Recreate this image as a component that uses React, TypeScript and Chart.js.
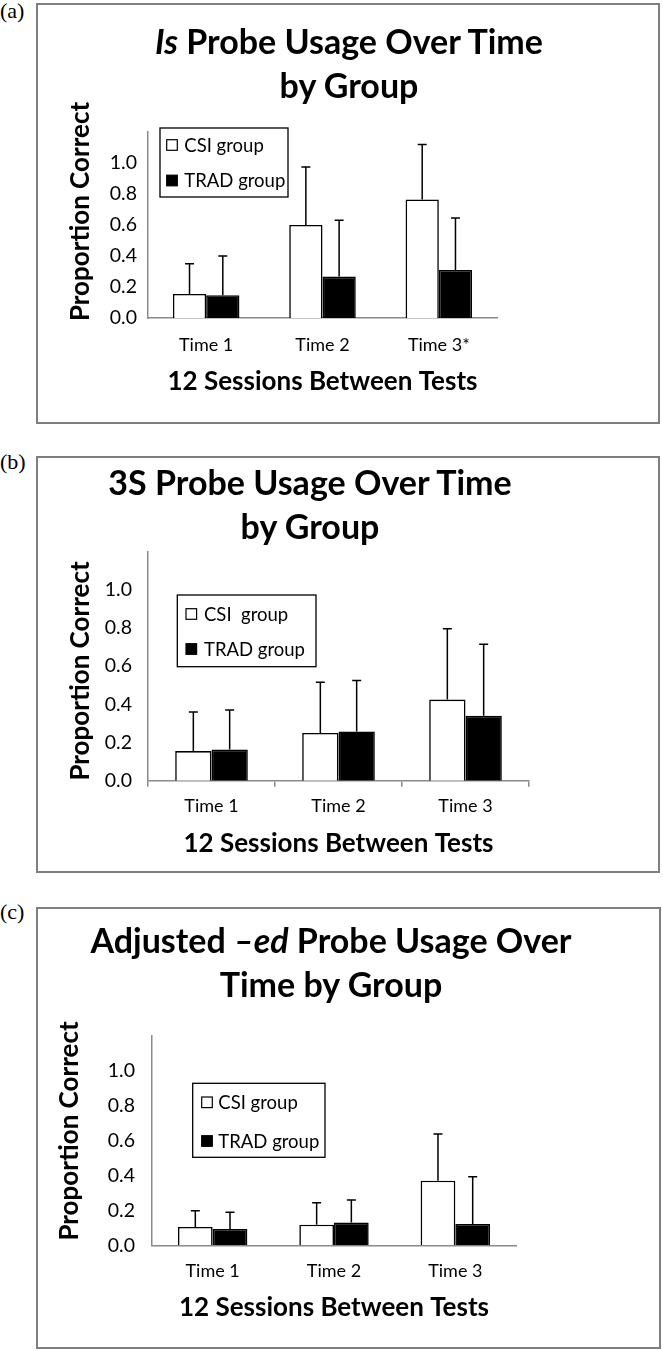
import React, { useEffect, useRef } from "react";
import { Chart, registerables } from "chart.js";

Chart.register(...registerables);

// ---------------- data ----------------
const timeLabelsA = ["Time 1", "Time 2", "Time 3*"];
const timeLabelsB = ["Time 1", "Time 2", "Time 3"];
const timeLabelsC = ["Time 1", "Time 2", "Time 3"];

const seriesNamesA = ["CSI group", "TRAD group"];
const seriesNamesB = ["CSI  group", "TRAD group"];
const seriesNamesC = ["CSI group", "TRAD group"];

const csiMeanA = [0.155, 0.6, 0.765];
const csiSdA = [0.195, 0.375, 0.355];
const tradMeanA = [0.147, 0.267, 0.31];
const tradSdA = [0.253, 0.363, 0.335];

const csiMeanB = [0.155, 0.25, 0.425];
const csiSdB = [0.205, 0.265, 0.37];
const tradMeanB = [0.163, 0.258, 0.34];
const tradSdB = [0.207, 0.267, 0.375];

const csiMeanC = [0.105, 0.118, 0.37];
const csiSdC = [0.093, 0.126, 0.268];
const tradMeanC = [0.094, 0.13, 0.122];
const tradSdC = [0.096, 0.13, 0.27];

const yMin = 0;
const yMax = 1.2;
const yStep = 0.2;
const yLabelMax = 1.0;

const titleA: [string, boolean][][] = [
  [["Is", true], [" Probe Usage Over Time", false]],
  [["by Group", false]],
];
const titleB: [string, boolean][][] = [
  [["3S Probe Usage Over Time", false]],
  [["by Group", false]],
];
const titleC: [string, boolean][][] = [
  [["Adjusted ", false], ["\u2013ed", true], [" Probe Usage Over", false]],
  [["Time by Group", false]],
];

const yAxisTitle = "Proportion Correct";
const xAxisTitle = "12 Sessions Between Tests";
const panelLabels = ["(a)", "(b)", "(c)"];

// ---------------- layout (positions / styles) ----------------
const FONT = "Lato, 'Open Sans', sans-serif";
const AXIS_GREY = "#8a8a8a";
const BOX_GREY = "#7f7f7f";

type Layout = {
  box: { x: number; y: number; w: number; h: number };
  area: { l: number; r: number; t: number; b: number };
  yTickPad: number;
  xTickPad: number;
  xTickMarks: boolean;
  yTitle: { x: number; y: number };
  xTitleY: number;
  legend: { x: number; y: number; w: number; h: number; sqX: number; sq: number; rows: number[]; textX: number };
  titleCenterX: number;
  titleBaseline: number;
  labelBaseline: number;
};

const layoutA: Layout = {
  box: { x: 36, y: 3, w: 624, h: 421 },
  area: { l: 112, r: 461, t: 129, b: 315 },
  yTickPad: 11,
  xTickPad: 16,
  xTickMarks: false,
  yTitle: { x: 53, y: 208.5 },
  xTitleY: 387,
  legend: { x: 124, y: 125, w: 128, h: 69, sqX: 130.7, sq: 10.6, rows: [142, 177.5], textX: 148.3 },
  titleCenterX: 349,
  titleBaseline: 54,
  labelBaseline: 18,
};

const layoutB: Layout = {
  box: { x: 36, y: 456, w: 624, h: 417 },
  area: { l: 112, r: 493, t: 95.5, b: 324.7 },
  yTickPad: 16,
  xTickPad: 9,
  xTickMarks: true,
  yTitle: { x: 53, y: 215 },
  xTitleY: 396,
  legend: { x: 141.3, y: 139, w: 138.7, h: 71.7, sqX: 150, sq: 10.6, rows: [158, 193], textX: 168 },
  titleCenterX: 310,
  titleBaseline: 495,
  labelBaseline: 469,
};

const layoutC: Layout = {
  box: { x: 36, y: 907, w: 625, h: 442 },
  area: { l: 116, r: 480, t: 128.8, b: 338.3 },
  yTickPad: 17,
  xTickPad: 15,
  xTickMarks: false,
  yTitle: { x: 42, y: 224 },
  xTitleY: 409,
  legend: { x: 156.7, y: 176.3, w: 132.3, h: 74, sqX: 165.7, sq: 10.6, rows: [195.3, 234], textX: 182.3 },
  titleCenterX: 331,
  titleBaseline: 953,
  labelBaseline: 919,
};

type PanelDef = {
  labels: string[];
  names: string[];
  csi: number[];
  csiSd: number[];
  trad: number[];
  tradSd: number[];
  title: [string, boolean][][];
  tag: string;
  L: Layout;
};

const panels: PanelDef[] = [
  { labels: timeLabelsA, names: seriesNamesA, csi: csiMeanA, csiSd: csiSdA, trad: tradMeanA, tradSd: tradSdA, title: titleA, tag: panelLabels[0], L: layoutA },
  { labels: timeLabelsB, names: seriesNamesB, csi: csiMeanB, csiSd: csiSdB, trad: tradMeanB, tradSd: tradSdB, title: titleB, tag: panelLabels[1], L: layoutB },
  { labels: timeLabelsC, names: seriesNamesC, csi: csiMeanC, csiSd: csiSdC, trad: tradMeanC, tradSd: tradSdC, title: titleC, tag: panelLabels[2], L: layoutC },
];

function buildConfig(p: PanelDef): any {
  const L = p.L;
  const X_AXIS_H = 60;
  const sds = [p.csiSd, p.tradSd];

  const errorBars = {
    id: "errorBars",
    afterDatasetsDraw(chart: any) {
      const ctx = chart.ctx;
      const ys = chart.scales.y;
      ctx.save();
      ctx.strokeStyle = "#000";
      ctx.lineWidth = 1.5;
      chart.data.datasets.forEach((ds: any, i: number) => {
        const meta = chart.getDatasetMeta(i);
        meta.data.forEach((bar: any, j: number) => {
          const v = ds.data[j];
          const top = ys.getPixelForValue(v + sds[i][j]);
          const x = bar.x;
          ctx.beginPath();
          ctx.moveTo(x, bar.y);
          ctx.lineTo(x, top);
          ctx.moveTo(x - 4.5, top);
          ctx.lineTo(x + 4.5, top);
          ctx.stroke();
        });
      });
      ctx.restore();
    },
  };

  const legendBox = {
    id: "legendBox",
    afterDraw(chart: any) {
      const ctx = chart.ctx;
      const g = L.legend;
      ctx.save();
      ctx.fillStyle = "#fff";
      ctx.fillRect(g.x, g.y, g.w, g.h);
      ctx.strokeStyle = "#000";
      ctx.lineWidth = 1.3;
      ctx.strokeRect(g.x, g.y, g.w, g.h);
      chart.data.datasets.forEach((ds: any, i: number) => {
        const cy = g.rows[i];
        ctx.fillStyle = ds.backgroundColor;
        ctx.fillRect(g.sqX, cy - g.sq / 2, g.sq, g.sq);
        ctx.lineWidth = 1.2;
        ctx.strokeStyle = "#000";
        ctx.strokeRect(g.sqX, cy - g.sq / 2, g.sq, g.sq);
        ctx.fillStyle = "#000";
        ctx.font = `18.5px ${FONT}`;
        ctx.textAlign = "left";
        ctx.textBaseline = "alphabetic";
        ctx.fillText(ds.label, g.textX, cy + 6.5);
      });
      ctx.restore();
    },
  };

  const axisTitles = {
    id: "axisTitles",
    afterDraw(chart: any) {
      const ctx = chart.ctx;
      const a = chart.chartArea;
      ctx.save();
      ctx.fillStyle = "#000";
      ctx.font = `bold 26px ${FONT}`;
      ctx.textAlign = "center";
      ctx.textBaseline = "alphabetic";
      ctx.fillText(xAxisTitle, (a.left + a.right) / 2, L.xTitleY);
      ctx.translate(L.yTitle.x, L.yTitle.y);
      ctx.rotate(-Math.PI / 2);
      ctx.fillText(yAxisTitle, 0, 0);
      ctx.restore();
    },
  };

  return {
    type: "bar",
    data: {
      labels: p.labels,
      datasets: [
        {
          label: p.names[0],
          data: p.csi,
          backgroundColor: "#ffffff",
          borderColor: "#000000",
          borderWidth: 1.6,
          categoryPercentage: 0.572,
          barPercentage: 1,
        },
        {
          label: p.names[1],
          data: p.trad,
          backgroundColor: "#000000",
          borderColor: "#000000",
          borderWidth: 1.6,
          categoryPercentage: 0.572,
          barPercentage: 1,
        },
      ],
    },
    options: {
      responsive: false,
      animation: false,
      devicePixelRatio: 1,
      layout: {
        padding: {
          left: 0,
          top: L.area.t,
          right: L.box.w - L.area.r,
          bottom: L.box.h - L.area.b - X_AXIS_H,
        },
      },
      plugins: {
        legend: { display: false },
        title: { display: false },
        tooltip: { enabled: false },
      },
      scales: {
        x: {
          grid: L.xTickMarks
            ? { display: true, drawOnChartArea: false, drawTicks: true, tickLength: 6, color: AXIS_GREY, lineWidth: 1.5, offset: true }
            : { display: false, drawTicks: false },
          border: { display: true, color: AXIS_GREY, width: 1.5 },
          ticks: { color: "#000", font: { family: FONT, size: 18 }, padding: L.xTickPad, maxRotation: 0, autoSkip: false },
          afterFit: (s: any) => {
            s.height = X_AXIS_H;
          },
        },
        y: {
          min: yMin,
          max: yMax,
          grid: { display: false, drawTicks: false },
          border: { display: true, color: AXIS_GREY, width: 1.5 },
          ticks: {
            stepSize: yStep,
            color: "#000",
            font: { family: FONT, size: 19.5 },
            padding: L.yTickPad,
            callback: (v: any) => (Number(v) > yLabelMax + 1e-6 ? null : Number(v).toFixed(1)),
          },
          afterFit: (s: any) => {
            s.width = L.area.l;
          },
        },
      },
    },
    plugins: [errorBars, legendBox, axisTitles],
  };
}

function Panel({ p }: { p: PanelDef }) {
  const ref = useRef<HTMLCanvasElement>(null);
  const L = p.L;
  useEffect(() => {
    const chart = new Chart(ref.current as HTMLCanvasElement, buildConfig(p));
    return () => chart.destroy();
  }, []);
  const TITLE_ASC = 35;
  return (
    <>
      <div
        style={{
          position: "absolute",
          left: 0,
          top: p.L.labelBaseline - 19.4,
          font: `22px "Liberation Serif", "Times New Roman", serif`,
          lineHeight: "24px",
          color: "#000",
        }}
      >
        {p.tag}
      </div>
      <canvas
        ref={ref}
        width={L.box.w}
        height={L.box.h}
        style={{ position: "absolute", left: L.box.x, top: L.box.y, width: L.box.w, height: L.box.h }}
      />
      <div
        style={{
          position: "absolute",
          left: L.box.x,
          top: L.box.y,
          width: L.box.w,
          height: L.box.h,
          border: `2px solid ${BOX_GREY}`,
          boxSizing: "border-box",
          pointerEvents: "none",
        }}
      />
      <div
        style={{
          position: "absolute",
          left: L.titleCenterX - 320,
          width: 640,
          top: L.titleBaseline - TITLE_ASC,
          textAlign: "center",
          font: `bold 34px ${FONT}`,
          lineHeight: "43.5px",
          color: "#000",
          whiteSpace: "pre",
        }}
      >
        {p.title.map((line, i) => (
          <div key={i}>
            {line.map(([t, it], j) => (it ? <i key={j}>{t}</i> : <span key={j}>{t}</span>))}
          </div>
        ))}
      </div>
    </>
  );
}

export default function App() {
  return (
    <div style={{ position: "absolute", left: 0, top: 0, width: 663, height: 1351, background: "#fff", overflow: "hidden" }}>
      {panels.map((p, i) => (
        <Panel key={i} p={p} />
      ))}
    </div>
  );
}
